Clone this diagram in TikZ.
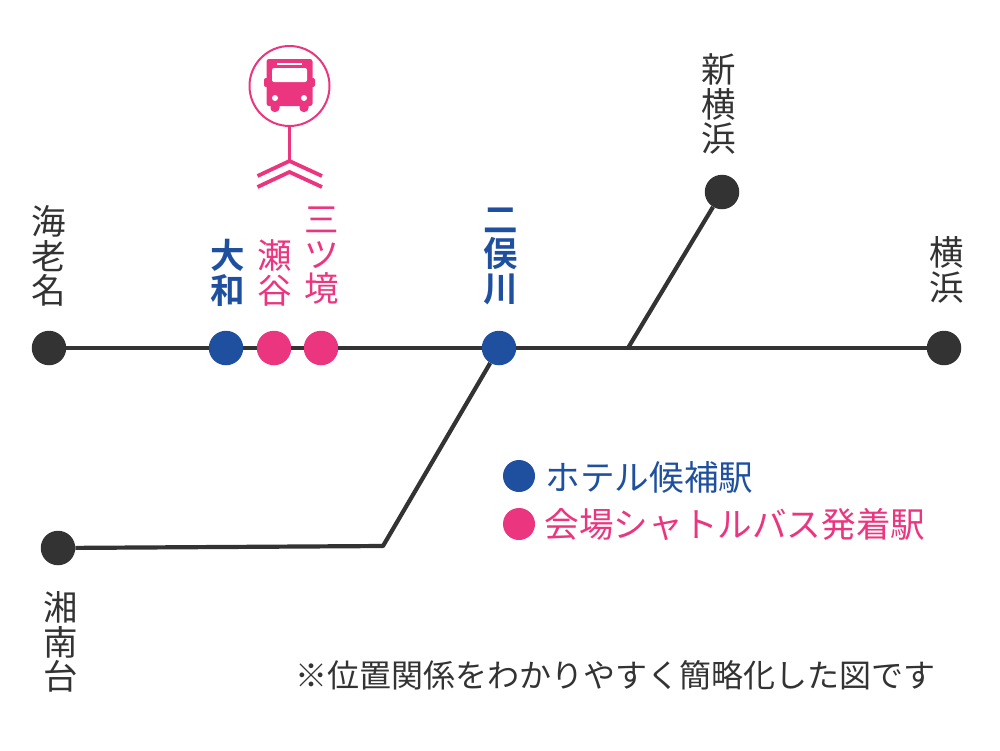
\documentclass[tikz,border=0pt]{standalone}
\usepackage{fontspec}
\setmainfont{Noto Sans CJK JP}[BoldFont={Noto Sans CJK JP Bold}]
\definecolor{blueS}{HTML}{1F50A0}
\definecolor{pinkS}{HTML}{EC357F}
\definecolor{darkS}{HTML}{333333}
\tikzset{
  stn/.style={circle,fill=#1,minimum size=34.5pt,inner sep=0pt,draw=none},
  lbl/.style={align=center,inner sep=0pt,text=#1,font=\fontsize{34.5}{34.5}\selectfont},
  lblb/.style={align=center,inner sep=0pt,text=#1,font=\fontsize{34.5}{34.5}\selectfont\bfseries},
  rail/.style={draw=darkS,line width=4.2pt},
  legendt/.style={anchor=west,inner sep=0pt,text=#1,font=\fontsize{34.6}{34.6}\selectfont},
  pinkline/.style={draw=pinkS,line width=3.8pt}
}
\begin{document}
\begin{tikzpicture}[x=1pt,y=-1pt]
\useasboundingbox (0,0) rectangle (1000,750);
% stations
\node[stn=darkS] (ebina) at (49,348) {};
\node[stn=blueS] (yamato) at (226,348) {};
\node[stn=pinkS] (seya) at (274,348) {};
\node[stn=pinkS] (mitsu) at (321,348) {};
\node[stn=blueS] (futa) at (499,348) {};
\node[stn=darkS] (shin) at (722,192) {};
\node[stn=darkS] (yoko) at (944,348) {};
\node[stn=darkS] (sho) at (58,548) {};
\coordinate (j1) at (628,348);
\coordinate (j2) at (383,546);
% rails
\draw[rail] (ebina) -- (yamato);
\draw[rail] (yamato) -- (seya);
\draw[rail] (seya) -- (mitsu);
\draw[rail] (mitsu) -- (futa);
\draw[rail] (futa) -- (yoko);
\draw[rail] (j1) -- (shin);
\draw[rail,line join=round] (futa) -- (j2) -- (sho);
% labels
\node[lbl=darkS] (t1) at (49,256) {海\\老\\名};
\node[lblb=blueS] (t2) at (228,273) {大\\和};
\node[lbl=pinkS] (t3) at (275,273) {瀬\\谷};
\node[lbl=pinkS] (t4) at (322,256) {三\\ツ\\境};
\node[lblb=blueS] (t5) at (501,256) {二\\俣\\川};
\node[lbl=darkS] (t6) at (719,104) {新\\横\\浜};
\node[lbl=darkS] (t7) at (946.5,270) {横\\浜};
\node[lbl=darkS] (t8) at (61,642) {湘\\南\\台};
% legend
\node[stn=blueS,minimum size=32pt] (lg1) at (519,476) {};
\node[stn=pinkS,minimum size=32pt] (lg2) at (519,524) {};
\node[legendt=blueS] (lt1) at (545.5,477) {ホテル候補駅};
\node[legendt=pinkS] (lt2) at (544.5,524) {会場シャトルバス発着駅};
\node[anchor=west,inner sep=0pt,text=darkS,font=\fontsize{32}{32}\selectfont] (note) at (295,675) {※位置関係をわかりやすく簡略化した図です};
% bus sign
\node[circle,draw=pinkS,line width=2pt,minimum size=80pt,inner sep=0pt] (sign) at (289.5,86) {};
\coordinate (apex) at (289.5,161);
\draw[draw=pinkS,line width=3pt] (sign) -- (apex);
\draw[pinkline] (257.5,176) -- (apex) -- (322,176);
\draw[pinkline] (257.5,187) -- (289.5,172) -- (322,187);
\fill[pinkS,rounded corners=2pt] (264,78) rectangle (315,87);
\fill[pinkS,rounded corners=2.5pt] (266.5,59) rectangle (312.5,106);
\fill[pinkS,rounded corners=4pt] (270.5,100) rectangle (279.5,112);
\fill[pinkS,rounded corners=4pt] (299.5,100) rectangle (308.5,112);
\fill[white,rounded corners=2pt] (272,68) rectangle (307,82);
\fill[white] (277,63) rectangle (302,65);
\fill[white] (275,98) circle (3pt);
\fill[white] (304,98) circle (3pt);
\end{tikzpicture}
\end{document}
